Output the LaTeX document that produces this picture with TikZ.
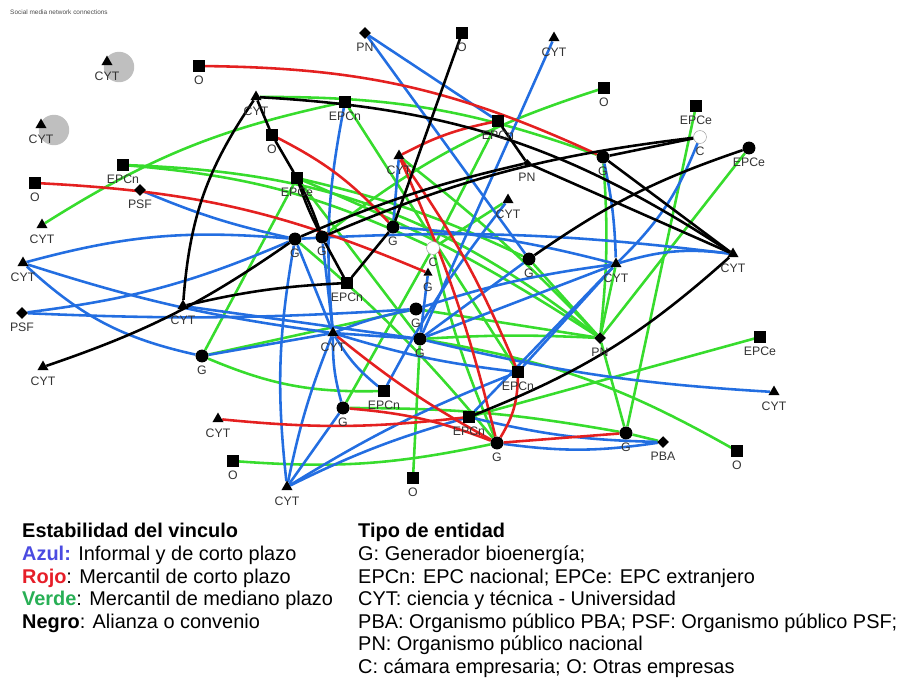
\documentclass[tikz,border=0pt]{standalone}
\usepackage{fontspec}
\setmainfont{Liberation Sans}
\usetikzlibrary{shapes.geometric,backgrounds}
\definecolor{linkblue}{RGB}{35,110,225}
\definecolor{linkred}{RGB}{228,32,32}
\definecolor{linkgreen}{RGB}{55,220,45}
\definecolor{azultxt}{RGB}{75,75,225}
\definecolor{rojotxt}{RGB}{230,30,40}
\definecolor{verdetxt}{RGB}{40,175,85}
\newcommand{\leyenda}{\fontsize{17}{20}\selectfont}

\begin{document}
\begin{tikzpicture}[x=0.03cm,y=-0.03cm]
\tikzstyle{lab}=[font=\fontsize{10.5}{12}\selectfont,text=black!80,inner sep=0pt,yshift=-12pt]
\tikzstyle{cyt}=[regular polygon,regular polygon sides=3,fill=black,inner sep=0pt,minimum size=11pt]
\tikzstyle{sq}=[rectangle,fill=black,inner sep=0pt,minimum size=9.5pt]
\tikzstyle{gen}=[circle,fill=black,inner sep=0pt,minimum size=11pt]
\tikzstyle{dia}=[diamond,fill=black,inner sep=0pt,minimum size=10pt]
\tikzstyle{cam}=[circle,fill=white,draw=black!40,thin,inner sep=0pt,minimum size=11pt]
\tikzstyle{halo}=[circle,fill=black!25,inner sep=0pt,minimum size=26pt]
\tikzstyle{azul}=[line width=2.2pt,draw=linkblue]
\tikzstyle{rojo}=[line width=2.2pt,draw=linkred]
\tikzstyle{verde}=[line width=2.2pt,draw=linkgreen]
\tikzstyle{negro}=[line width=2.2pt,draw=black]
\tikzstyle{leg}=[anchor=base west,inner sep=0pt,font=\leyenda]

\useasboundingbox (0,0) rectangle (911,688);

\node at (10,12) [anchor=west,inner sep=0pt,font=\fontsize{5.5}{6}\selectfont,text=black!70] (titulo) {Social media network connections};

% aislados
\node at (119,67) [halo] (haloa) {};
\node at (54,130) [halo] (halob) {};
\node at (107,62) [cyt,label={[lab]center:CYT}] (cyta) {};
\node at (41,125) [cyt,label={[lab]center:CYT}] (cytb) {};

% red, arriba
\node at (199,66) [sq,label={[lab]center:O}] (oa) {};
\node at (256,97) [cyt,label={[lab]center:CYT}] (cytc) {};
\node at (272,135) [sq,label={[lab]center:O}] (ob) {};
\node at (123,165) [sq,label={[lab]center:EPCn}] (epcna) {};
\node at (35,183) [sq,label={[lab]center:O}] (oc) {};
\node at (140,190) [dia,label={[lab]center:PSF}] (psfa) {};
\node at (42,225) [cyt,label={[lab]center:CYT}] (cytd) {};
\node at (297,178) [sq,label={[lab]center:EPCe}] (epcea) {};
\node at (345,102) [sq,label={[lab]center:EPCn}] (epcnb) {};
\node at (365,33) [dia,label={[lab]center:PN}] (pna) {};
\node at (462,33) [sq,label={[lab]center:O}] (od) {};
\node at (554,38) [cyt,label={[lab]center:CYT}] (cyte) {};
\node at (498,121) [sq,label={[lab]center:EPCn}] (epcnc) {};
\node at (399,156) [cyt,label={[lab]center:CYT}] (cytf) {};
\node at (527,163) [dia,minimum size=7pt,label={[lab]center:PN}] (pnb) {};
\node at (508,200) [cyt,label={[lab]center:CYT}] (cytg) {};
\node at (604,88) [sq,label={[lab]center:O}] (oe) {};
\node at (696,106) [sq,label={[lab]center:EPCe}] (epceb) {};
\node at (700,137) [cam,label={[lab]center:C}] (ca) {};
\node at (749,148) [gen,label={[lab]center:EPCe}] (epcec) {};
\node at (603,157) [gen,label={[lab]center:G}] (ga) {};

% red, centro
\node at (733,254) [cyt,label={[lab]center:CYT}] (cyth) {};
\node at (616,264) [cyt,label={[lab]center:CYT}] (cyti) {};
\node at (529,259) [gen,label={[lab]center:G}] (gb) {};
\node at (393,227) [gen,label={[lab]center:G}] (gc) {};
\node at (433,248) [cam,label={[lab]center:C}] (cb) {};
\node at (428,273) [cyt,minimum size=9pt,label={[lab]center:G}] (gd) {};
\node at (295,239) [gen,label={[lab]center:G}] (ge) {};
\node at (322,237) [gen,label={[lab]center:G}] (gf) {};
\node at (23,263) [cyt,label={[lab]center:CYT}] (cytj) {};
\node at (22,313) [dia,label={[lab]center:PSF}] (psfb) {};
\node at (183,306) [cyt,label={[lab]center:CYT}] (cytk) {};
\node at (43,367) [cyt,label={[lab]center:CYT}] (cytl) {};
\node at (202,356) [gen,label={[lab]center:G}] (gg) {};
\node at (347,283) [sq,label={[lab]center:EPCn}] (epcnd) {};
\node at (416,309) [gen,label={[lab]center:G}] (gh) {};
\node at (420,339) [gen,label={[lab]center:G}] (gi) {};
\node at (333,333) [cyt,label={[lab]center:CYT}] (cytm) {};

% red, abajo
\node at (384,391) [sq,label={[lab]center:EPCn}] (epcne) {};
\node at (343,408) [gen,label={[lab]center:G}] (gj) {};
\node at (469,417) [sq,label={[lab]center:EPCn}] (epcnf) {};
\node at (518,372) [sq,label={[lab]center:EPCn}] (epcng) {};
\node at (497,443) [gen,label={[lab]center:G}] (gk) {};
\node at (413,478) [sq,label={[lab]center:O}] (of) {};
\node at (287,487) [cyt,label={[lab]center:CYT}] (cytn) {};
\node at (218,419) [cyt,label={[lab]center:CYT}] (cyto) {};
\node at (233,461) [sq,label={[lab]center:O}] (og) {};
\node at (626,433) [gen,label={[lab]center:G}] (gl) {};
\node at (663,442) [dia,label={[lab]center:PBA}] (pba) {};
\node at (737,451) [sq,label={[lab]center:O}] (oh) {};
\node at (774,392) [cyt,label={[lab]center:CYT}] (cytp) {};
\node at (760,337) [sq,label={[lab]center:EPCe}] (epced) {};
\node at (600,338) [dia,label={[lab]center:PN}] (pnc) {};

\begin{scope}[on background layer]
% verde
\draw [verde] (cytc) to[bend left=10] (ga);
\draw [verde] (cytd) to[bend left=10] (epcnb);
\draw [verde] (epcna) to[bend left=18] (pnc);
\draw [verde] (gf) to[bend left=10] (oe);
\draw [verde] (epcnb) -- (epcng);
\draw [verde] (ga) to[bend left=5] (pnc);
\draw [verde] (epceb) -- (gl);
\draw [verde] (epcec) -- (pnc);
\draw [verde] (epcea) -- (gg);
\draw [verde] (gg) to[bend right=12] (epcne);
\draw [verde] (gg) -- (gh);
\draw [verde] (og) to[bend right=8] (gk);
\draw [verde] (of) -- (gi);
\draw [verde] (gi) to[bend left=3] (pnc);
\draw [verde] (gh) -- (pnc);
\draw [verde] (pnc) -- (gl);
\draw [verde] (pnc) -- (cyti);
\draw [verde] (gl) -- (pba);
\draw [verde] (gi) to[bend left=10] (oh);
\draw [verde] (epcnf) -- (epced);
\draw [verde] (gj) to[bend left=5] (gl);
\draw [verde] (epcnc) -- (cb);
\draw [verde] (gj) -- (cb);
\draw [verde] (cytg) -- (cb);
\draw [verde] (cb) to[bend right=5] (gk);
\draw [verde] (epcea) to[bend left=5] (pnc);
\draw [verde] (epcea) -- (gi);
\draw [verde] (ge) to[bend left=5] (gk);
\draw [verde] (epcna) to[bend left=10] (cb);
\draw [verde] (gb) -- (pnc);
\draw [verde] (epcea) to[bend left=6] (gb);
\draw [verde] (cytf) to[bend left=4] (pnc);

% azul
\draw [azul] (pna) -- (epcnc);
\draw [azul] (pna) -- (gb);
\draw [azul] (cyte) -- (gi);
\draw [azul] (epcnb) to[bend right=8] (cytm);
\draw [azul] (cytf) -- (gc);
\draw [azul] (cytg) to[bend right=5] (epcne);
\draw [azul] (ca) to[bend left=12] (cyti);
\draw [azul] (ga) to[bend left=5] (cyti);
\draw [azul] (cyti) to[bend left=12] (cyth);
\draw [azul] (cytj) to[bend left=10] (ge);
\draw [azul] (cytj) to[bend right=15] (gg);
\draw [azul] (cytj) to[bend right=5] (cytm);
\draw [azul] (psfb) to[bend right=8] (ge);
\draw [azul] (psfb) to[bend right=3] (gh);
\draw [azul] (psfa) to[bend right=5] (ge);
\draw [azul] (gg) -- (cytm);
\draw [azul] (ge) to[bend right=8] (cytn);
\draw [azul] (ge) -- (cytm);
\draw [azul] (gf) -- (cytm);
\draw [azul] (cytm) to[bend right=5] (cytn);
\draw [azul] (cytn) -- (gj);
\draw [azul] (cytm) to[bend right=8] (gj);
\draw [azul] (cytm) to[bend right=10] (epcne);
\draw [azul] (cytm) to[bend left=5] (gh);
\draw [azul] (cytm) -- (gi);
\draw [azul] (cytm) to[bend right=5] (epcng);
\draw [azul] (cytn) to[bend left=5] (epcnf);
\draw [azul] (cytn) to[bend left=5] (epcng);
\draw [azul] (epcnf) to[bend right=6] (pba);
\draw [azul] (gk) to[bend right=8] (pba);
\draw [azul] (epcnf) -- (cyti);
\draw [azul] (epcng) -- (cyti);
\draw [azul] (gh) to[bend left=5] (cyti);
\draw [azul] (gi) -- (cyti);
\draw [azul] (gi) to[bend right=5] (cytp);
\draw [azul] (ge) to[bend left=5] (cyth);
\draw [azul] (gc) to[bend left=5] (cyti);
\draw [azul] (gi) -- (gd);
\draw [azul] (cytk) -- (gi);
\draw [azul] (gb) -- (gi);

% rojo
\draw [rojo] (oa) to[bend left=12] (ga);
\draw [rojo] (oc) to[bend left=10] (gd);
\draw [rojo] (ob) to[bend left=10] (gc);
\draw [rojo] (cytf) to[bend left=8] (epcnc);
\draw [rojo] (cytf) to[bend left=5] (gk);
\draw [rojo] (cytf) to[bend left=6] (epcng);
\draw [rojo] (epcng) to[bend left=15] (gk);
\draw [rojo] (cytm) to[bend right=5] (gk);
\draw [rojo] (gj) to[bend left=8] (gk);
\draw [rojo] (cyto) to[bend right=6] (epcnf);
\draw [rojo] (gk) -- (gl);

% negro
\draw [negro] (cytc) -- (ob);
\draw [negro] (ob) -- (epcea);
\draw [negro] (epcea) to[bend left=4] (gf);
\draw [negro] (epcea) to[bend right=4] (gf);
\draw [negro] (cytc) to[bend right=15] (cytk);
\draw [negro] (cytc) to[bend left=15] (cyth);
\draw [negro] (epcnc) -- (pnb);
\draw [negro] (pnb) -- (cyth);
\draw [negro] (od) -- (gc);
\draw [negro] (gc) -- (epcnd);
\draw [negro] (gf) -- (epcnd);
\draw [negro] (epcnd) to[bend right=5] (cytk);
\draw [negro] (cytl) to[bend right=8] (ge);
\draw [negro] (ca) -- (ga);
\draw [negro] (ca) to[bend right=8] (gf);
\draw [negro] (pnb) to[bend right=5] (ge);
\draw [negro] (gb) to[bend left=8] (epcec);
\draw [negro] (epcnf) to[bend right=10] (cyth);
\draw [negro] (ga) -- (cyth);
\end{scope}

% leyenda
\node at (22,537) [leg,font=\leyenda\bfseries] (esta) {Estabilidad del vinculo};
\node at (22,560) [leg] (azl) {\textcolor{azultxt}{\bfseries Azul:} Informal y de corto plazo};
\node at (22,583) [leg] (rjo) {\textcolor{rojotxt}{\bfseries Rojo}: Mercantil de corto plazo};
\node at (22,605) [leg] (vrd) {\textcolor{verdetxt}{\bfseries Verde}: Mercantil de mediano plazo};
\node at (22,628) [leg] (ngr) {\textbf{Negro}: Alianza o convenio};

\node at (358,537) [leg,font=\leyenda\bfseries] (tipo) {Tipo de entidad};
\node at (358,560) [leg] (tg) {G: Generador bioenergía;};
\node at (358,583) [leg] (tepc) {EPCn: EPC nacional; EPCe: EPC extranjero};
\node at (358,605) [leg] (tcyt) {CYT: ciencia y técnica - Universidad};
\node at (358,628) [leg] (tpba) {PBA: Organismo público PBA; PSF: Organismo público PSF;};
\node at (358,650) [leg] (tpn) {PN: Organismo público nacional};
\node at (358,673) [leg] (tc) {C: cámara empresaria; O: Otras empresas};

\end{tikzpicture}
\end{document}
